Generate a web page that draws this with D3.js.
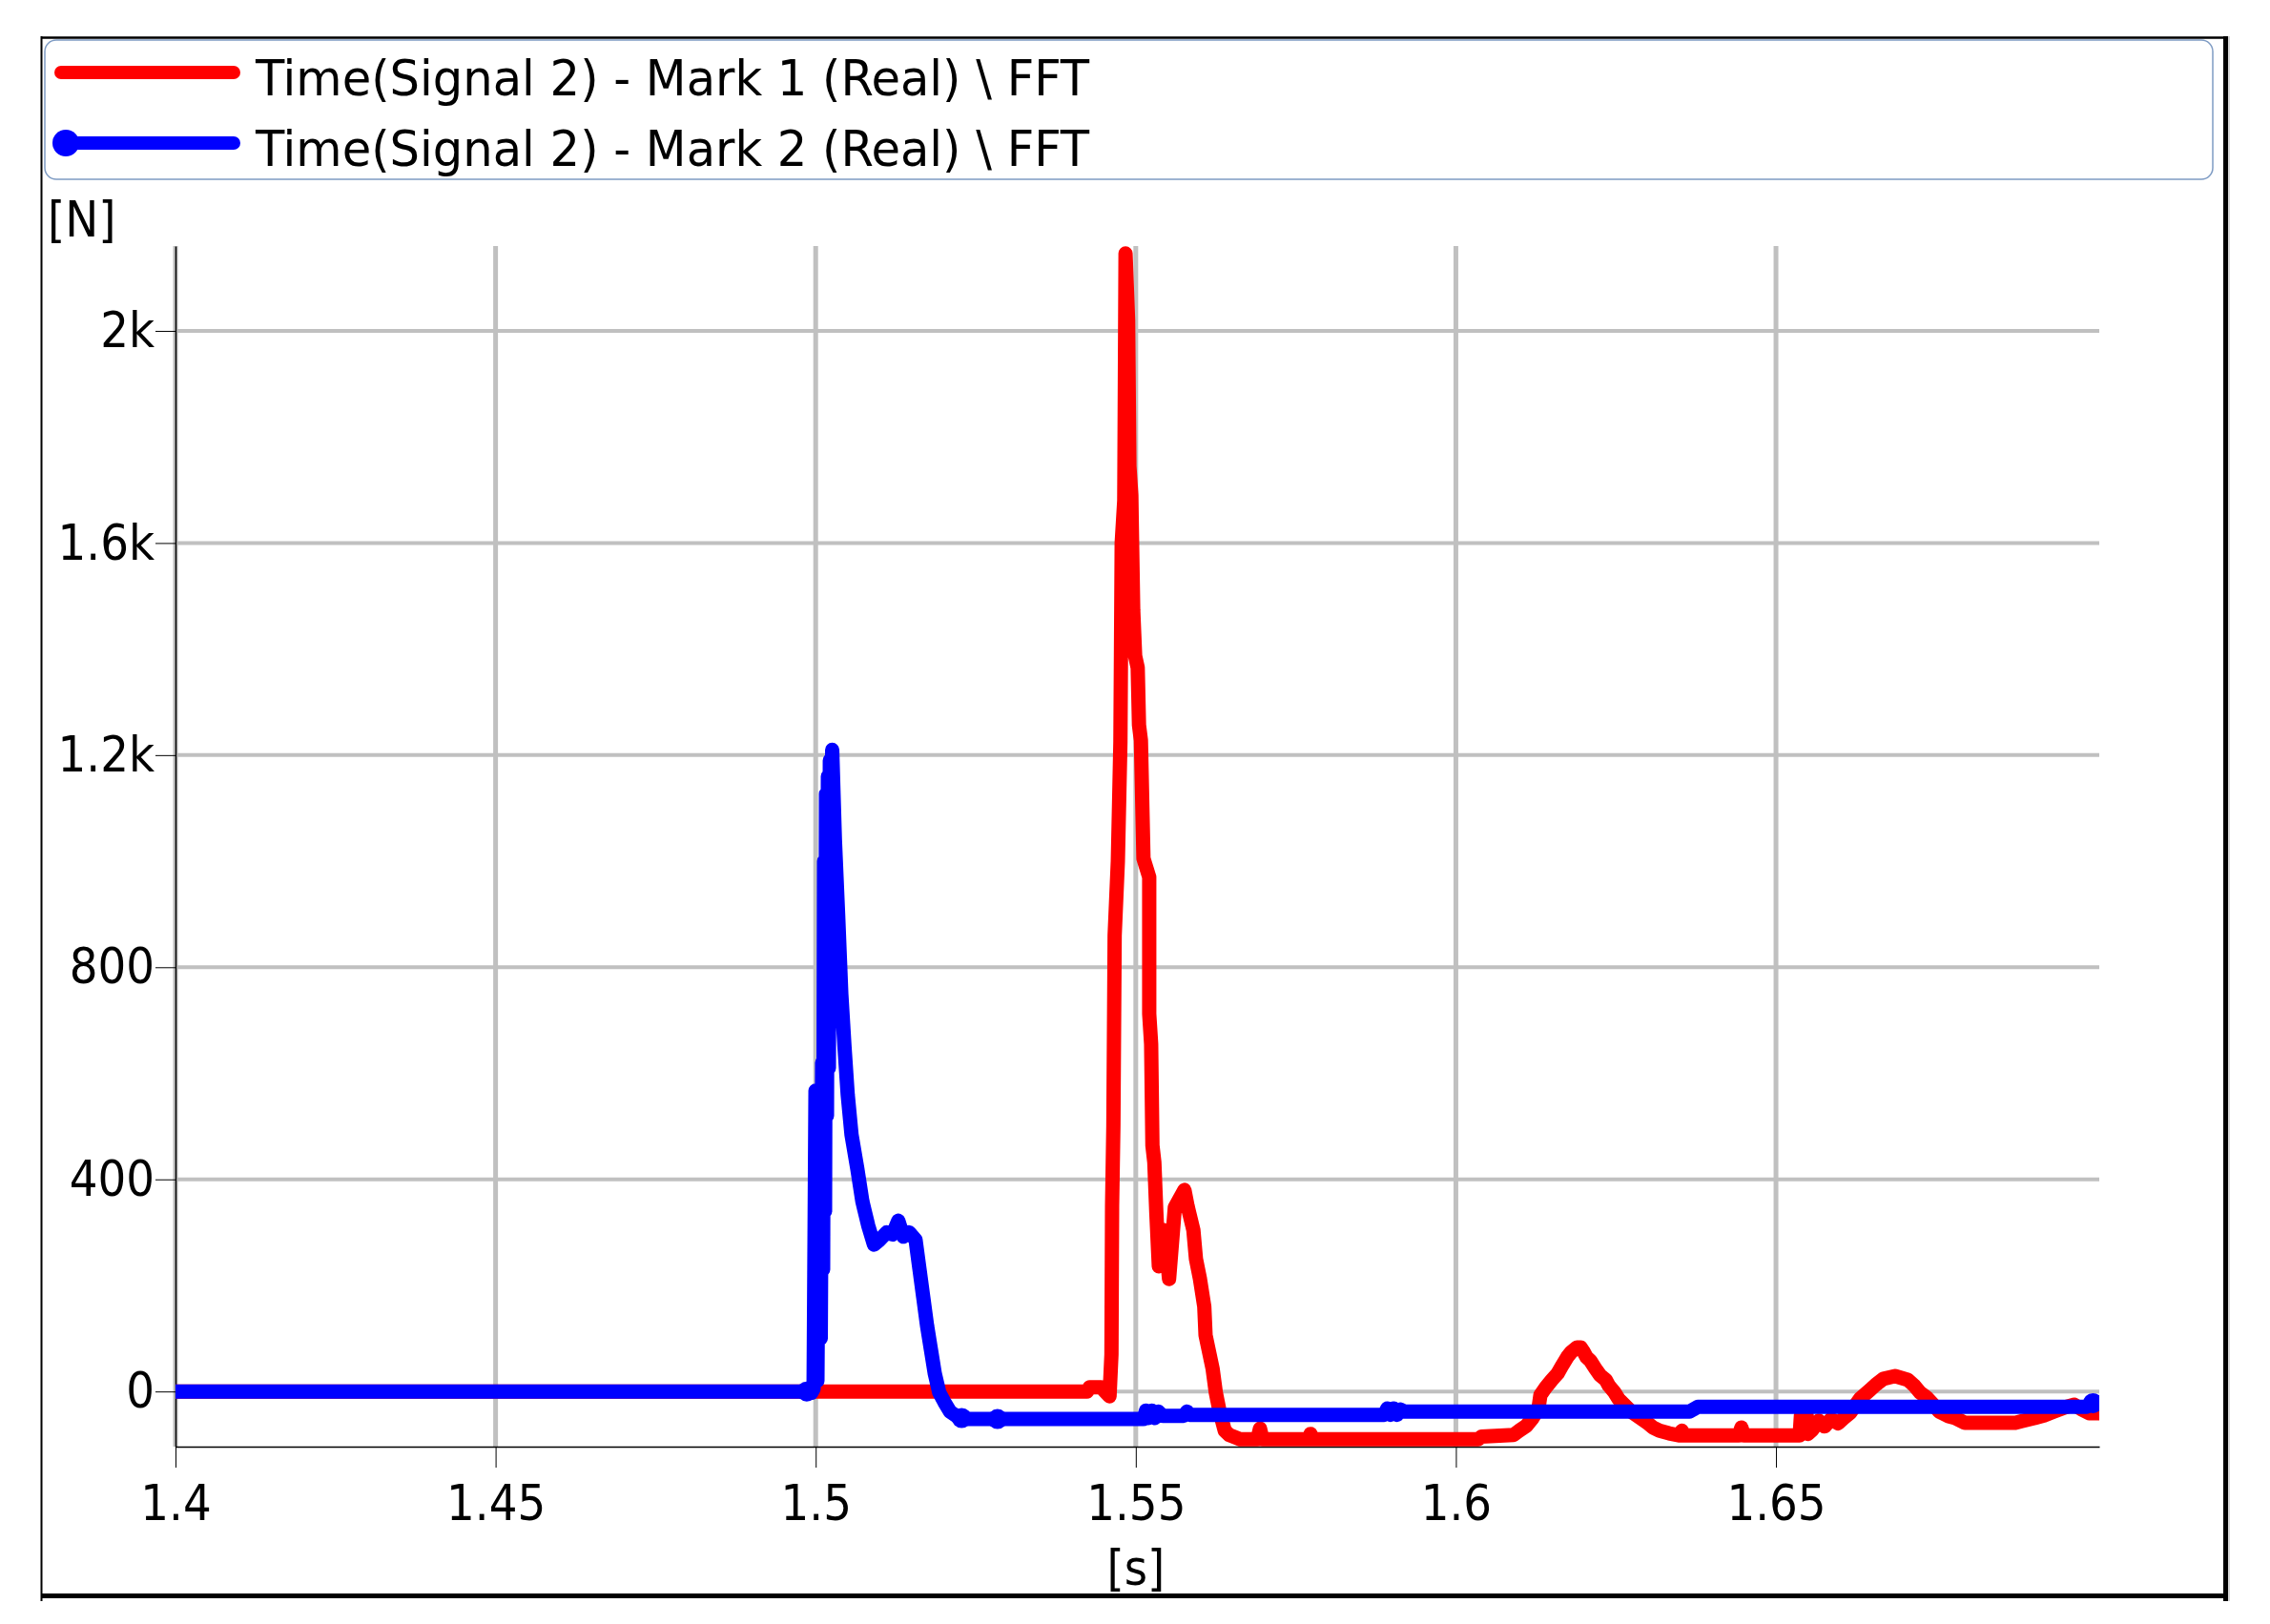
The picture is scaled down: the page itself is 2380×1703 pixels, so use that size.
<!doctype html>
<html lang="en">

<head>
  <meta charset="utf-8">
  <style>
    body { margin: 0; background: #ffffff; }
    text { font-family: "DejaVu Sans Condensed", "DejaVu Sans", sans-serif; font-stretch: condensed; fill: #000; }
  </style>
</head>

<body>
  <script src="https://d3js.org/d3.v7.min.js" charset="utf-8"></script>
  <div id="chart"></div>

  <script>
    // legend + ticks
    var seriesNames = ["Time(Signal 2) - Mark 1 (Real) \\ FFT", "Time(Signal 2) - Mark 2 (Real) \\ FFT"];
    var seriesColors = ["#ff0000", "#0000ff"];
    var xTickValues = [1.4, 1.45, 1.5, 1.55, 1.6, 1.65];
    var xTickLabels = ["1.4", "1.45", "1.5", "1.55", "1.6", "1.65"];
    var yTickValues = [0, 400, 800, 1200, 1600, 2000];
    var yTickLabels = ["0", "400", "800", "1.2k", "1.6k", "2k"];
    var xUnit = "[s]";
    var yUnit = "[N]";

    // Mark 1 (red), time [s] and force [N]
    var mark1Time = [1.4000, 1.5424, 1.5428, 1.5446, 1.5452, 1.5459, 1.5462, 1.5463, 1.5465, 1.5467,
      1.5472, 1.5476, 1.5478, 1.5482, 1.5484, 1.5488, 1.5490, 1.5493, 1.5496, 1.5499,
      1.5503, 1.5505, 1.5508, 1.5512, 1.5521, 1.5521, 1.5524, 1.5526, 1.5529, 1.5532,
      1.5536, 1.5545, 1.5552, 1.5561, 1.5576, 1.5581, 1.5590, 1.5594, 1.5600, 1.5607,
      1.5609, 1.5620, 1.5625, 1.5631, 1.5639, 1.5646, 1.5663, 1.5690, 1.5694, 1.5698,
      1.5770, 1.5773, 1.5776, 1.6035, 1.6040, 1.6090, 1.6099, 1.6110, 1.6120, 1.6129,
      1.6132, 1.6140, 1.6150, 1.6159, 1.6165, 1.6174, 1.6180, 1.6189, 1.6195, 1.6199,
      1.6204, 1.6210, 1.6218, 1.6225, 1.6234, 1.6239, 1.6248, 1.6254, 1.6263, 1.6274,
      1.6288, 1.6299, 1.6308, 1.6318, 1.6333, 1.6350, 1.6353, 1.6356, 1.6442, 1.6446,
      1.6450, 1.6537, 1.6539, 1.6548, 1.6550, 1.6557, 1.6567, 1.6576, 1.6586, 1.6597,
      1.6606, 1.6616, 1.6631, 1.6646, 1.6656, 1.6668, 1.6686, 1.6706, 1.6716, 1.6725,
      1.6735, 1.6746, 1.6755, 1.6770, 1.6780, 1.6795, 1.6874, 1.6884, 1.6904, 1.6919,
      1.6934, 1.6954, 1.6966, 1.6978, 1.6989, 1.7010];
    var mark1Force = [0, 0, 8, 8, 0, -9, 70, 350, 500, 860,
      1000, 1225, 1600, 1680, 2146, 2020, 1745, 1690, 1473, 1387,
      1365, 1257, 1228, 1005, 970, 712, 655, 464, 432, 340,
      236, 304, 212, 347, 380, 349, 304, 250, 214, 160,
      106, 43, -2, -38, -74, -82, -90, -90, -70, -90,
      -90, -80, -90, -90, -85, -82, -74, -65, -50, -32,
      -7, 7, 22, 34, 47, 65, 74, 83, 83, 76,
      65, 58, 43, 31, 22, 11, -2, -14, -25, -38,
      -50, -59, -68, -74, -79, -83, -74, -83, -83, -68,
      -83, -83, -45, -45, -80, -72, -55, -66, -52, -60,
      -50, -40, -14, 2, 13, 24, 29, 22, 11, -2,
      -11, -25, -38, -47, -50, -59, -59, -56, -50, -45,
      -38, -29, -25, -34, -41, -41];

    // Mark 2 (blue)
    var mark2Time = [1.4000, 1.4986, 1.4993, 1.49967, 1.49997, 1.50027, 1.50057, 1.50079, 1.50101, 1.50116,
      1.50131, 1.50146, 1.50161, 1.50176, 1.50191, 1.50206, 1.50221, 1.50243, 1.50258, 1.5030,
      1.5035, 1.5040, 1.5045, 1.5050, 1.5056, 1.5065, 1.5073, 1.5082, 1.5091, 1.5100,
      1.5111, 1.5120, 1.5129, 1.5137, 1.5146, 1.5156, 1.5162, 1.5168, 1.5174, 1.5180,
      1.5186, 1.5193, 1.5201, 1.5210, 1.5222, 1.5235, 1.5512, 1.5516, 1.5520, 1.5525,
      1.5530, 1.5535, 1.5542, 1.5575, 1.5580, 1.5584, 1.5888, 1.5893, 1.5898, 1.5903,
      1.5908, 1.5913, 1.5920, 1.6365, 1.6378, 1.6985, 1.6995, 1.7010];
    var mark2Force = [0, 0, -3, 5, 567, 20, 567, 100, 620, 230,
      1000, 340, 1127, 520, 1160, 610, 1190, 750, 1210, 1040,
      900, 750, 650, 560, 484, 420, 358, 313, 277, 286,
      300, 296, 322, 292, 300, 286, 232, 178, 124, 79,
      34, -2, -20, -38, -48, -52, -52, -36, -50, -36,
      -50, -38, -46, -46, -38, -44, -44, -32, -44, -32,
      -44, -34, -38, -38, -29, -29, -22, -22];
    var mark2MarkerTime = [1.4986, 1.5228, 1.5284, 1.6995];
    var mark2MarkerForce = [0, -50, -52, -22];

    var width = 2380, height = 1703;
    var plotLeft = 184, plotRight = 2201, plotTop = 258, plotBottom = 1517;
    var fontSize = 52;
    var lineWidth = 15;

    var svg = d3.select("#chart").append("svg")
      .attr("width", width)
      .attr("height", height)
      .style("display", "block");

    var x = d3.scaleLinear().domain([1.4, 1.7005]).range([plotLeft, plotRight]);
    var y = d3.scaleLinear().domain([-104, 2160]).range([plotBottom, plotTop]);

    // frame with heavier right/bottom edge
    var frame = svg.append("g");
    frame.append("line").attr("x1", 43).attr("x2", 2336).attr("y1", 39.5).attr("y2", 39.5)
      .attr("stroke", "#000").attr("stroke-width", 2.5);
    frame.append("line").attr("x1", 43.5).attr("x2", 43.5).attr("y1", 38).attr("y2", 1679)
      .attr("stroke", "#000").attr("stroke-width", 2);
    frame.append("line").attr("x1", 2333.5).attr("x2", 2333.5).attr("y1", 38).attr("y2", 1679)
      .attr("stroke", "#000").attr("stroke-width", 5);
    frame.append("line").attr("x1", 2337).attr("x2", 2337).attr("y1", 38).attr("y2", 1679)
      .attr("stroke", "#c8c8c8").attr("stroke-width", 1.5);
    frame.append("line").attr("x1", 43).attr("x2", 2336).attr("y1", 1673.5).attr("y2", 1673.5)
      .attr("stroke", "#000").attr("stroke-width", 5);

    // grid
    var grid = svg.append("g");
    grid.selectAll("line.vg").data(xTickValues).enter().append("line")
      .attr("class", "vg")
      .attr("x1", d => x(d)).attr("x2", d => x(d))
      .attr("y1", plotTop).attr("y2", plotBottom)
      .attr("stroke", "#c0c0c0").attr("stroke-width", 5);
    grid.selectAll("line.hg").data(yTickValues).enter().append("line")
      .attr("class", "hg")
      .attr("x1", plotLeft).attr("x2", plotRight)
      .attr("y1", d => y(d)).attr("y2", d => y(d))
      .attr("stroke", "#c0c0c0").attr("stroke-width", 4);

    // axes
    var yAxis = d3.axisLeft(y)
      .tickValues(yTickValues)
      .tickFormat((d, i) => yTickLabels[i])
      .tickSize(21)
      .tickSizeOuter(0)
      .tickPadding(1);
    var gy = svg.append("g").attr("transform", "translate(" + plotLeft + ",0)").call(yAxis);

    var xAxis = d3.axisBottom(x)
      .tickValues(xTickValues)
      .tickFormat((d, i) => xTickLabels[i])
      .tickSize(22)
      .tickSizeOuter(0)
      .tickPadding(18);
    var gx = svg.append("g").attr("transform", "translate(0," + plotBottom + ")").call(xAxis);

    [gx, gy].forEach(function (g) {
      g.select(".domain").attr("stroke", "#000").attr("stroke-width", 1.5);
      g.selectAll(".tick line").attr("stroke", "#000").attr("stroke-width", 1);
      g.selectAll(".tick text").attr("font-size", fontSize).attr("fill", "#000");
      g.attr("font-family", null).attr("font-size", null);
    });

    svg.append("text").attr("x", x(1.55)).attr("y", 1662)
      .attr("text-anchor", "middle").attr("font-size", fontSize).text(xUnit);
    svg.append("text").attr("x", 50).attr("y", 248)
      .attr("font-size", fontSize).text(yUnit);

    // data lines, cut at the plot area
    svg.append("clipPath").attr("id", "plotClip")
      .append("rect")
      .attr("x", plotLeft).attr("y", plotTop - 10)
      .attr("width", plotRight - plotLeft).attr("height", plotBottom - plotTop + 10);

    var lines = svg.append("g").attr("clip-path", "url(#plotClip)");

    function drawSeries(times, forces, color) {
      var line = d3.line()
        .x(i => x(times[i]))
        .y(i => y(forces[i]));
      lines.append("path")
        .attr("d", line(d3.range(times.length)))
        .attr("fill", "none")
        .attr("stroke", color)
        .attr("stroke-width", lineWidth)
        .attr("stroke-linejoin", "round")
        .attr("stroke-linecap", "round");
    }
    drawSeries(mark1Time, mark1Force, seriesColors[0]);
    drawSeries(mark2Time, mark2Force, seriesColors[1]);

    lines.selectAll("circle.mk").data(d3.range(mark2MarkerTime.length)).enter().append("circle")
      .attr("class", "mk")
      .attr("cx", i => x(mark2MarkerTime[i]))
      .attr("cy", i => y(mark2MarkerForce[i]))
      .attr("r", 10.5)
      .attr("fill", seriesColors[1]);

    // legend
    var legend = svg.append("g");
    legend.append("rect")
      .attr("x", 47).attr("y", 42)
      .attr("width", 2273).attr("height", 146)
      .attr("rx", 12).attr("ry", 12)
      .attr("fill", "#fff")
      .attr("stroke", "#7f9cc4").attr("stroke-width", 1.5);

    var legendRows = [76, 150];
    seriesNames.forEach(function (name, i) {
      var ly = legendRows[i];
      legend.append("line")
        .attr("x1", 64).attr("x2", 245)
        .attr("y1", ly).attr("y2", ly)
        .attr("stroke", seriesColors[i])
        .attr("stroke-width", 14)
        .attr("stroke-linecap", "round");
      if (i === 1) {
        legend.append("circle").attr("cx", 69).attr("cy", ly).attr("r", 14)
          .attr("fill", seriesColors[i]);
      }
      legend.append("text")
        .attr("x", 268).attr("y", ly + 24)
        .attr("font-size", fontSize)
        .attr("textLength", 874)
        .attr("lengthAdjust", "spacingAndGlyphs")
        .text(name);
    });
  </script>
</body>

</html>
